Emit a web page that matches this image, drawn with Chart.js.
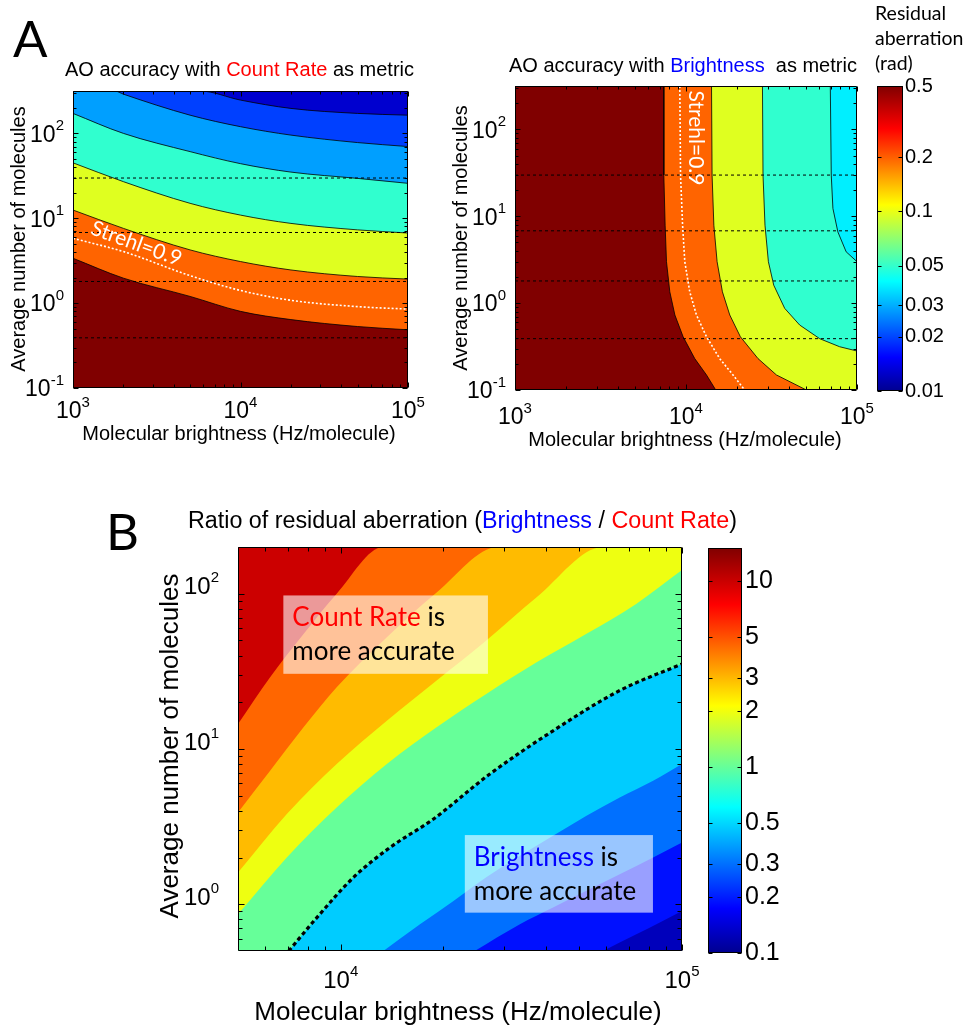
<!DOCTYPE html>
<html>
<head>
<meta charset="utf-8">
<script src="https://cdn.jsdelivr.net/npm/chart.js@4.4.0/dist/chart.umd.min.js"></script>
<style>
body { margin: 0; background: #fff; }
#wrap { position: relative; width: 968px; height: 1030px; overflow: hidden; background: #fff; }
canvas { position: absolute; left: 0; top: 0; }
</style>
</head>
<body>
<div id="wrap">
<canvas id="cA1" width="968" height="1030"></canvas>
<canvas id="cA2" width="968" height="1030"></canvas>
<canvas id="cCbA" width="968" height="1030"></canvas>
<canvas id="cB" width="968" height="1030"></canvas>
<canvas id="cCbB" width="968" height="1030"></canvas>
</div>
<script>
// panel A, left : AO accuracy with Count Rate as metric (contour boundaries, y as fn of x)
const countX = [1000, 2000, 5000, 10000, 20000, 50000, 100000];
const countLevel1 = [3.38, 1.97, 1.2, 0.8, 0.64, 0.53, 0.485];
const countLevel2 = [12.5, 7.6, 4.24, 3.09, 2.46, 2.06, 1.92];
const countLevel3 = [45, 27, 15, 10.9, 8.7, 7.3, 6.7];
const countLevel4 = [172, 100, 61, 44, 35, 29.5, 25.8];
const countLevel5X = [1000, 1775, 2000, 5000, 10000, 20000, 50000, 100000];
const countLevel5 = [316, 316, 290, 164, 120, 95.5, 78, 70];
const countLevel6X = [1000, 5730, 10000, 20000, 50000, 100000];
const countLevel6 = [316, 316, 247, 197, 172, 164];
const countStrehl = [5.8, 4.05, 2.11, 1.41, 1.08, 0.91, 0.85];

// panel A, right : AO accuracy with Brightness as metric
const brightY = [316, 316, 29.8, 7.9, 3.0, 1.35, 0.73, 0.41, 0.23, 0.149, 0.1];
const brightLevel1X = [1000, 7420, 7420, 7550, 7690, 8040, 8610, 9620, 11250, 13180, 14930];
const brightLevel2X = [1000, 14100, 14210, 14550, 15200, 16330, 18030, 20800, 26370, 33810, 50580];
const brightLevel3X = [1000, 28000, 28210, 28970, 30330, 32590, 37770, 46200, 60500, 79100, 100000];
const brightLevel3Y = [316, 316, 29.8, 7.9, 3.0, 1.61, 0.871, 0.56, 0.39, 0.315, 0.281];
const brightLevel4X = [1000, 69800, 70700, 72300, 77300, 86400, 100000];
const brightLevel4Y = [316, 316, 29.8, 12.3, 6.6, 3.9, 3.0];
const brightStrehlX = [9200, 9290, 9550, 9840, 10520, 11510, 13180, 15740, 18840, 22030];
const brightStrehlY = [316, 29.8, 7.9, 3.0, 1.35, 0.73, 0.41, 0.23, 0.149, 0.1];

// dashed reference levels (both A panels)
const refLevels = [29.8, 6.8, 1.8, 0.39];

// panel B : ratio Brightness / Count Rate
const ratio1X = [5000, 6210, 7780, 9730, 13330, 100000];
const ratio1Y = [14.5, 29, 55, 100, 200, 200];
const ratio2X = [5000, 6210, 7780, 9730, 13650, 19100, 28900, 100000];
const ratio2Y = [3.9, 7.24, 13.8, 25, 52.5, 102, 200, 200];
const ratio3X = [5000, 6950, 9730, 13650, 19100, 26700, 37500, 58700, 100000];
const ratio3Y = [1.6, 3.81, 8.0, 15.2, 27.6, 50, 95, 200, 200];
const ratio4X = [5000, 6950, 9730, 13650, 19100, 26700, 37500, 52500, 73400, 100000];
const ratio4Y = [0.861, 2.0, 4.2, 8.0, 13.8, 22.6, 36.2, 55.2, 86, 142];
const ratioOneX = [7040, 8510, 10900, 13940, 18660, 27350, 41900, 65700, 100000];
const ratioOneY = [0.5, 0.82, 1.49, 2.32, 3.53, 6.9, 13.1, 23.8, 35.3];
const ratio6X = [13330, 17070, 21400, 26700, 33500, 41900, 52500, 65700, 82300, 100000];
const ratio6Y = [0.5, 0.743, 1.05, 1.49, 2.05, 2.76, 3.72, 4.88, 6.25, 8.0];
const ratio7X = [24700, 33500, 41900, 52500, 65700, 82300, 100000];
const ratio7Y = [0.5, 0.743, 0.952, 1.22, 1.56, 2.0, 2.5];
const ratio8X = [58700, 73500, 86100, 100000];
const ratio8Y = [0.5, 0.64, 0.762, 0.906];

// text boxes in B (data coords)
const boxCountX = [6790, 27000], boxCountY = [30.5, 97.5];
const boxBrightX = [23100, 82200], boxBrightY = [0.883, 2.79];

// colorbars
const cbARange = [0.01, 0.5];
const cbATicks = [0.5, 0.2, 0.1, 0.05, 0.03, 0.02, 0.01];
const cbBRange = [0.1, 15];
const cbBTicks = [10, 5, 3, 2, 1, 0.5, 0.3, 0.2, 0.1];

const W = 968, H = 1030;
const SANS = '"Liberation Sans", Arial, Helvetica, sans-serif';
const CAL = 'Lato, "Open Sans", sans-serif';

function pts(xs, ys) { return xs.map((x, i) => ({ x: x, y: ys[i] })); }

function layer(xs, ys, color, extra) {
  return Object.assign({
    data: pts(xs, ys), fill: 'start', backgroundColor: color,
    borderColor: '#000', borderWidth: 0.8, pointRadius: 0
  }, extra || {});
}
function line(xs, ys, color, width, dash, extra) {
  return Object.assign({
    data: pts(xs, ys), fill: false, borderColor: color, borderWidth: width,
    borderDash: dash, pointRadius: 0
  }, extra || {});
}

function minors(min, max) {
  let out = [];
  for (let d = Math.floor(Math.log10(min)); d <= Math.ceil(Math.log10(max)); d++) {
    for (let k = 2; k <= 9; k++) {
      let v = k * Math.pow(10, d);
      if (v > min * 1.0001 && v < max * 0.9999) out.push(v);
    }
  }
  return out;
}

// "10" with a raised exponent, y = vertical middle of the "10"
function powLabel(ctx, e, x, y, size, align) {
  let es = Math.round(size * 0.64);
  ctx.font = size + 'px ' + SANS;
  let wb = ctx.measureText('10').width;
  ctx.font = es + 'px ' + SANS;
  let we = ctx.measureText(String(e)).width;
  let left = align === 'right' ? x - wb - we : x - (wb + we) / 2;
  let base = y + size * 0.358;
  ctx.textAlign = 'left';
  ctx.textBaseline = 'alphabetic';
  ctx.font = size + 'px ' + SANS;
  ctx.fillText('10', left, base);
  ctx.font = es + 'px ' + SANS;
  ctx.fillText(String(e), left + wb, base - size * 0.5);
}

function runs(ctx, parts, x, y, size, family, align) {
  ctx.font = size + 'px ' + family;
  ctx.textBaseline = 'alphabetic';
  ctx.textAlign = 'left';
  let w = 0;
  parts.forEach(p => { w += ctx.measureText(p[0]).width; });
  let cx = align === 'center' ? x - w / 2 : x;
  parts.forEach(p => {
    ctx.fillStyle = p[1];
    ctx.fillText(p[0], cx, y);
    cx += ctx.measureText(p[0]).width;
  });
}

function rotText(ctx, txt, x, y, ang, size, family, color) {
  ctx.save();
  ctx.translate(x, y);
  ctx.rotate(ang);
  ctx.font = size + 'px ' + family;
  ctx.fillStyle = color;
  ctx.textAlign = 'center';
  ctx.textBaseline = 'alphabetic';
  ctx.fillText(txt, 0, 0);
  ctx.restore();
}

function makeAxes(cfg) {
  return {
    id: 'axesBox',
    afterDatasetsDraw(chart) {
      const ctx = chart.ctx, a = chart.chartArea;
      const xs = chart.scales.x, ys = chart.scales.y;
      ctx.save();
      if (cfg.before) cfg.before(chart, ctx);
      const L = a.left + 0.5, R = a.right - 0.5, T = a.top + 0.5, B = a.bottom - 0.5;
      ctx.strokeStyle = '#000';
      ctx.lineWidth = 1;
      ctx.setLineDash([]);
      ctx.beginPath();
      const tx = (v, len) => {
        let p = Math.round(xs.getPixelForValue(v)) + 0.5;
        ctx.moveTo(p, B); ctx.lineTo(p, B - len);
        ctx.moveTo(p, T); ctx.lineTo(p, T + len);
      };
      const ty = (v, len) => {
        let p = Math.round(ys.getPixelForValue(v)) + 0.5;
        ctx.moveTo(L, p); ctx.lineTo(L + len, p);
        ctx.moveTo(R, p); ctx.lineTo(R - len, p);
      };
      (cfg.xMajor || []).forEach(v => tx(v, cfg.major));
      (cfg.xMinor || []).forEach(v => tx(v, cfg.minor));
      (cfg.yMajor || []).forEach(v => ty(v, cfg.major));
      (cfg.yMinor || []).forEach(v => ty(v, cfg.minor));
      ctx.rect(L, T, R - L, B - T);
      ctx.stroke();
      ctx.fillStyle = '#000';
      if (cfg.xExp) cfg.xExp.forEach(e => powLabel(ctx, e, xs.getPixelForValue(Math.pow(10, e)), cfg.xLabMid, cfg.size, 'center'));
      if (cfg.yExp) cfg.yExp.forEach(e => powLabel(ctx, e, cfg.yLabRight, ys.getPixelForValue(Math.pow(10, e)) + cfg.yLabDy, cfg.size, 'right'));
      if (cfg.cbLabels) {
        ctx.font = cfg.size + 'px ' + SANS;
        ctx.textAlign = 'left';
        ctx.textBaseline = 'middle';
        cfg.cbLabels.forEach(v => ctx.fillText(String(v), cfg.cbX, ys.getPixelForValue(v)));
      }
      if (cfg.after) cfg.after(chart, ctx);
      ctx.restore();
    }
  };
}

function baseOptions(area) {
  return {
    responsive: false, animation: false, devicePixelRatio: 1, events: [],
    layout: { padding: { left: area[0], top: area[1], right: W - area[2], bottom: H - area[3] } },
    elements: { point: { radius: 0 }, line: { tension: 0 } },
    plugins: { legend: { display: false }, tooltip: { enabled: false } }
  };
}

function plotChart(id, area, xr, yr, datasets, axes) {
  datasets.forEach((d, i) => { d.order = datasets.length - i; });
  let opts = baseOptions(area);
  opts.scales = {
    x: { type: 'logarithmic', display: false, min: xr[0], max: xr[1] },
    y: { type: 'logarithmic', display: false, min: yr[0], max: yr[1] }
  };
  return new Chart(document.getElementById(id), {
    type: 'line', data: { datasets: datasets }, options: opts, plugins: [makeAxes(axes)]
  });
}

function jet(ctx, a) {
  let g = ctx.createLinearGradient(0, a.bottom, 0, a.top);
  g.addColorStop(0, 'rgb(0,0,143)');
  g.addColorStop(0.11, 'rgb(0,0,255)');
  g.addColorStop(0.36, 'rgb(0,255,255)');
  g.addColorStop(0.61, 'rgb(255,255,0)');
  g.addColorStop(0.86, 'rgb(255,0,0)');
  g.addColorStop(1, 'rgb(128,0,0)');
  return g;
}

function colorbar(id, area, range, ticks, labX, size) {
  let opts = baseOptions(area);
  opts.scales = {
    x: { display: false },
    y: { type: 'logarithmic', display: false, min: range[0], max: range[1] }
  };
  return new Chart(document.getElementById(id), {
    type: 'bar',
    data: {
      labels: [''],
      datasets: [{
        data: [[range[0], range[1]]],
        backgroundColor: c => c.chart.chartArea ? jet(c.chart.ctx, c.chart.chartArea) : '#000',
        borderWidth: 0, barPercentage: 1, categoryPercentage: 1, inflateAmount: 0
      }]
    },
    options: opts,
    plugins: [makeAxes({ yMajor: ticks, major: 4, cbLabels: ticks, cbX: labX, size: size })]
  });
}

const K = '#000', RED = '#ff0000', BLUE = '#0000ff';
const mono = { cubicInterpolationMode: 'monotone' };

// ---------- A left
let a1 = [
  layer([1000, 100000], [316, 316], '#0000cf', { borderWidth: 0 }),
  layer(countLevel6X, countLevel6, '#0040ff', mono),
  layer(countLevel5X, countLevel5, '#009fff', mono),
  layer(countX, countLevel4, '#30ffcf', mono),
  layer(countX, countLevel3, '#dfff20', mono),
  layer(countX, countLevel2, '#ff6400', mono),
  layer(countX, countLevel1, '#800000', mono)
];
refLevels.forEach(v => a1.push(line([1000, 100000], [v, v], '#000', 1, [3, 3])));
a1.push(line(countX, countStrehl, '#ffffff', 1.6, [2, 2], mono));

plotChart('cA1', [73, 91, 408, 388], [1000, 100000], [0.1, 316], a1, {
  xMajor: [1e3, 1e4, 1e5], xMinor: minors(1e3, 1e5),
  yMajor: [0.1, 1, 10, 100], yMinor: minors(0.1, 316),
  major: 5, minor: 3, size: 23,
  xExp: [3, 4, 5], xLabMid: 410,
  yExp: [-1, 0, 1, 2], yLabRight: 64, yLabDy: 0,
  after: (chart, ctx) => {
    rotText(ctx, 'Strehl=0.9', 134, 250, 20 * Math.PI / 180, 21, CAL, '#ffffff');
    // figure texts
    ctx.fillStyle = K;
    runs(ctx, [['A', K]], 13, 57, 51, CAL, 'left');
    runs(ctx, [['B', K]], 106, 550, 51, CAL, 'left');
    runs(ctx, [['AO accuracy with ', K], ['Count Rate', RED], [' as metric', K]], 65, 76, 20, SANS, 'left');
    runs(ctx, [['AO accuracy with ', K], ['Brightness', BLUE], ['  as metric', K]], 509, 72, 20, SANS, 'left');
    runs(ctx, [['Ratio of residual aberration (', K], ['Brightness', BLUE], [' / ', K], ['Count Rate', RED], [')', K]], 188, 528, 23.3, SANS, 'left');
    runs(ctx, [['Molecular brightness (Hz/molecule)', K]], 239, 440, 20, SANS, 'center');
    runs(ctx, [['Molecular brightness (Hz/molecule)', K]], 685, 446, 20, SANS, 'center');
    runs(ctx, [['Molecular brightness (Hz/molecule)', K]], 458, 1020, 26, SANS, 'center');
    rotText(ctx, 'Average number of molecules', 25, 239, -Math.PI / 2, 20, SANS, K);
    rotText(ctx, 'Average number of molecules', 467, 238, -Math.PI / 2, 20, SANS, K);
    rotText(ctx, 'Average number of molecules', 178, 746, -Math.PI / 2, 26, SANS, K);
    runs(ctx, [['Residual', K]], 875, 20, 19.5, CAL, 'left');
    runs(ctx, [['aberration', K]], 875, 45, 19.5, CAL, 'left');
    runs(ctx, [['(rad)', K]], 875, 70, 19.5, CAL, 'left');
  }
});

// ---------- A right
let a2 = [
  layer([1000, 100000], [316, 316], '#00efff', { borderWidth: 0 }),
  layer(brightLevel4X, brightLevel4Y, '#30ffcf'),
  layer(brightLevel3X, brightLevel3Y, '#dfff20'),
  layer(brightLevel2X, brightY, '#ff6400'),
  layer(brightLevel1X, brightY, '#800000')
];
refLevels.forEach(v => a2.push(line([1000, 100000], [v, v], '#000', 1, [3, 3])));
a2.push(line(brightStrehlX, brightStrehlY, '#ffffff', 1.6, [2, 2]));

plotChart('cA2', [515, 86, 857, 390], [1000, 100000], [0.1, 316], a2, {
  xMajor: [1e3, 1e4, 1e5], xMinor: minors(1e3, 1e5),
  yMajor: [0.1, 1, 10, 100], yMinor: minors(0.1, 316),
  major: 5, minor: 3, size: 23,
  xExp: [3, 4, 5], xLabMid: 416,
  yExp: [-1, 0, 1, 2], yLabRight: 506, yLabDy: 0,
  after: (chart, ctx) => {
    rotText(ctx, 'Strehl=0.9', 689, 138, Math.PI / 2, 21, CAL, '#ffffff');
  }
});

colorbar('cCbA', [877, 86, 903, 391], cbARange, cbATicks, 905, 20);

// ---------- B
let b = [
  layer([5000, 100000], [200, 200], '#cc0000', { borderWidth: 0 }),
  layer(ratio1X, ratio1Y, '#ff6600', Object.assign({ borderWidth: 0 }, mono)),
  layer(ratio2X, ratio2Y, '#ffbb00', Object.assign({ borderWidth: 0 }, mono)),
  layer(ratio3X, ratio3Y, '#eeff11', Object.assign({ borderWidth: 0 }, mono)),
  layer(ratio4X, ratio4Y, '#66ff99', Object.assign({ borderWidth: 0 }, mono)),
  layer(ratioOneX, ratioOneY, '#00ccff', Object.assign({ borderWidth: 0 }, mono)),
  layer(ratio6X, ratio6Y, '#0070ff', Object.assign({ borderWidth: 0 }, mono)),
  layer(ratio7X, ratio7Y, '#0010ff', Object.assign({ borderWidth: 0 }, mono)),
  layer(ratio8X, ratio8Y, '#0000bb', Object.assign({ borderWidth: 0 }, mono)),
  line(ratioOneX, ratioOneY, '#000', 3.2, [4, 3], mono)
];

function noteBox(chart, ctx, bx, by, lines) {
  const xs = chart.scales.x, ys = chart.scales.y;
  let l = xs.getPixelForValue(bx[0]), r = xs.getPixelForValue(bx[1]);
  let t = ys.getPixelForValue(by[1]), btm = ys.getPixelForValue(by[0]);
  ctx.fillStyle = 'rgba(255,255,255,0.6)';
  ctx.fillRect(l, t, r - l, btm - t);
  runs(ctx, lines[0], l + 9, t + 31, 26, CAL, 'left');
  runs(ctx, lines[1], l + 9, t + 65, 26, CAL, 'left');
}

plotChart('cB', [238, 547, 682, 951], [5000, 100000], [0.5, 200], b, {
  xMajor: [1e4, 1e5], xMinor: minors(5000, 1e5),
  yMajor: [1, 10, 100], yMinor: minors(0.5, 200),
  major: 6, minor: 4, size: 24,
  xExp: [4, 5], xLabMid: 979,
  yExp: [0, 1, 2], yLabRight: 219, yLabDy: -8,
  before: (chart, ctx) => {
    noteBox(chart, ctx, boxCountX, boxCountY, [[['Count Rate', RED], [' is', K]], [['more accurate', K]]]);
    noteBox(chart, ctx, boxBrightX, boxBrightY, [[['Brightness', BLUE], [' is', K]], [['more accurate', K]]]);
  }
});

colorbar('cCbB', [708, 548, 742, 953], cbBRange, cbBTicks, 745, 25);
</script>
</body>
</html>
